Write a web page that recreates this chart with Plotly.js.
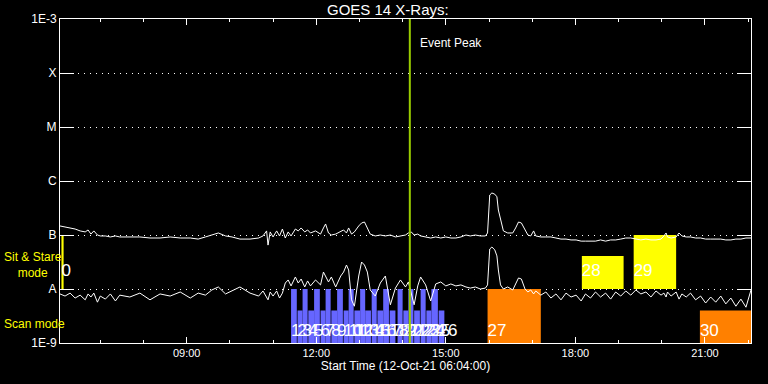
<!DOCTYPE html>
<html><head><meta charset="utf-8">
<script src="https://cdn.plot.ly/plotly-3.0.1.min.js"></script>
<style>html,body{margin:0;padding:0;background:#000;}#chart{width:768px;height:384px;}</style>
</head><body><div id="chart"></div>
<script>
const day = '2021-10-12 ';

const times = ['06:04','06:11','06:18','06:25','06:32','06:39','06:43','06:47','06:51','06:56',
'07:00','07:07','07:14','07:21','07:27','07:41','07:55','08:09','08:23','08:37',
'08:51','09:05','09:16','09:26','09:35','09:44','09:54','10:03','10:14','10:28',
'10:40','10:46','10:51','10:53','10:56','11:00','11:05','11:09','11:13','11:17',
'11:21','11:25','11:31','11:35','11:39','11:44','11:48','11:52','11:59','12:06',
'12:10','12:13','12:17','12:21','12:27','12:34','12:38','12:42','12:45','12:49',
'12:53','12:59','13:03','13:07','13:11','13:15','13:22','13:29','13:36','13:43',
'13:50','13:57','14:04','14:08','14:12','14:16','14:21','14:25','14:32','14:39',
'14:46','14:53','15:00','15:07','15:14','15:21','15:28','15:34','15:41','15:48',
'15:55','15:58','16:01','16:04','16:08','16:11','16:13','16:16','16:20','16:26',
'16:33','16:37','16:41','16:45','16:50','16:54','16:58','17:02','17:05','17:12',
'17:19','17:26','17:33','17:40','17:47','17:54','18:01','18:08','18:14','18:21',
'18:28','18:35','18:42','18:49','18:56','19:03','19:10','19:17','19:24','19:31',
'19:38','19:45','19:52','19:59','20:03','20:06','20:08','20:13','20:20','20:24',
'20:28','20:34','20:40','20:47','20:54','21:01','21:08','21:15','21:22','21:29',
'21:36','21:43','21:50','21:57','22:04'];

// GOES long channel (1-8 A), W/m^2
const longFlux = [1.47e-7,1.41e-7,1.35e-7,1.29e-7,1.19e-7,1.14e-7,1.24e-7,1.04e-7,1.19e-7,1.0e-7,
9.6e-8,9.6e-8,9.2e-8,9.6e-8,9.2e-8,9.2e-8,9.2e-8,8.8e-8,8.8e-8,9.2e-8,
8.8e-8,8.8e-8,8.4e-8,9.2e-8,1.0e-7,1.09e-7,9.6e-8,9.2e-8,8.4e-8,8.4e-8,
8.8e-8,9.6e-8,1.19e-7,6.5e-8,1.14e-7,9.2e-8,1.19e-7,9.6e-8,1.29e-7,8.8e-8,
1.14e-7,9.6e-8,1.29e-7,1.19e-7,1.35e-7,1.14e-7,1.24e-7,1.09e-7,1.19e-7,1.04e-7,
1.35e-7,1.6e-7,1.09e-7,1.0e-7,1.04e-7,1.14e-7,1.24e-7,1.09e-7,1.35e-7,1.04e-7,
1.14e-7,1.47e-7,1.67e-7,1.74e-7,1.29e-7,1.04e-7,9.6e-8,1.0e-7,9.6e-8,1.0e-7,
9.2e-8,9.6e-8,1.0e-7,1.09e-7,1.14e-7,1.0e-7,1.04e-7,9.6e-8,9.2e-8,8.8e-8,
9.2e-8,8.8e-8,9.2e-8,8.8e-8,8.8e-8,9.2e-8,1.0e-7,9.6e-8,1.0e-7,9.6e-8,
9.6e-8,1.09e-7,5.5e-7,6.0e-7,5.7e-7,5.1e-7,2.9e-7,1.9e-7,1.19e-7,1.09e-7,
1.09e-7,1.35e-7,1.74e-7,1.67e-7,1.24e-7,1.0e-7,9.6e-8,1.19e-7,9.6e-8,9.2e-8,
9.2e-8,9.2e-8,8.8e-8,8.4e-8,8.4e-8,8.1e-8,8.1e-8,7.7e-8,7.7e-8,7.7e-8,
7.7e-8,8.1e-8,7.7e-8,8.1e-8,8.1e-8,8.4e-8,8.8e-8,8.8e-8,8.4e-8,8.1e-8,
8.4e-8,8.1e-8,8.1e-8,8.4e-8,9.6e-8,1.09e-7,9.2e-8,8.8e-8,9.2e-8,1.09e-7,
9.6e-8,9.2e-8,9.2e-8,8.8e-8,8.8e-8,8.4e-8,8.4e-8,8.4e-8,8.4e-8,8.1e-8,
8.1e-8,8.4e-8,8.4e-8,8.8e-8,8.8e-8];

// GOES short channel (0.5-4 A), W/m^2
const shortFlux = [8.1e-9,7.4e-9,8.4e-9,6.8e-9,7.7e-9,6.3e-9,8.1e-9,7.1e-9,8.4e-9,5.7e-9,
7.4e-9,6.5e-9,8.1e-9,6.0e-9,7.7e-9,7.1e-9,8.4e-9,6.3e-9,8.1e-9,7.4e-9,
8.8e-9,6.8e-9,8.4e-9,7.7e-9,9.6e-9,1.09e-8,8.1e-9,9.2e-9,1.09e-8,8.4e-9,
7.4e-9,9.2e-9,7.1e-9,6.3e-9,8.8e-9,7.4e-9,9.2e-9,6.8e-9,8.4e-9,1.29e-8,
1.47e-8,1.14e-8,1.67e-8,1.29e-8,1.53e-8,1.09e-8,1.41e-8,1.14e-8,1.47e-8,1.19e-8,
2.06e-8,1.74e-8,1.35e-8,1.67e-8,1.09e-8,1.74e-8,2.06e-8,2.78e-8,2.25e-8,6.3e-9,
4.8e-9,1.74e-8,3.16e-8,2.78e-8,2.06e-8,9.6e-9,7.4e-9,1.29e-8,1.74e-8,5.1e-9,
1.04e-8,1.47e-8,1.09e-8,1.35e-8,8.1e-9,5.1e-9,1.14e-8,1.67e-8,1.19e-8,6.0e-9,
1.24e-8,1.35e-8,1.14e-8,1.24e-8,1.14e-8,1.19e-8,1.09e-8,1.04e-8,1.09e-8,1.0e-8,
1.04e-8,1.19e-8,5.5e-8,6.0e-8,5.3e-8,4.1e-8,2.25e-8,1.19e-8,1.0e-8,1.09e-8,
9.6e-9,1.24e-8,1.6e-8,1.53e-8,1.0e-8,8.8e-9,9.6e-9,8.1e-9,9.2e-9,7.7e-9,
8.8e-9,6.8e-9,8.1e-9,6.3e-9,8.4e-9,7.1e-9,7.7e-9,6.0e-9,8.1e-9,6.8e-9,
8.8e-9,7.1e-9,8.4e-9,6.5e-9,8.8e-9,7.4e-9,9.2e-9,7.7e-9,9.6e-9,8.1e-9,
8.8e-9,7.1e-9,9.2e-9,7.7e-9,8.4e-9,7.1e-9,8.8e-9,7.4e-9,8.8e-9,6.5e-9,
8.1e-9,7.1e-9,8.4e-9,6.3e-9,7.4e-9,5.5e-9,7.1e-9,5.7e-9,7.4e-9,5.3e-9,
6.8e-9,4.8e-9,6.5e-9,4.6e-9,9.6e-9];

// Scan mode observations (blue)
const scanLabels = ['1','2','3','4','5','6','7','8','9','10','11','12','13','14','15','16','17','18','19','20','21','22','23','24','25','26'];
const scanStart = ['11:25','11:34','11:41','11:49','11:57','12:06','12:13','12:21','12:29','12:38','12:45','12:53','13:01','13:08','13:17','13:25','13:33','13:42','13:53','14:01','14:08','14:16','14:25','14:33','14:40','14:50'];
const scanEnd   = ['11:33','11:41','11:48','11:57','12:05','12:13','12:20','12:29','12:37','12:45','12:52','13:01','13:08','13:16','13:24','13:33','13:41','13:50','14:00','14:08','14:15','14:24','14:32','14:40','14:49','14:58'];
const scanTop   = [1e-8,4e-9,1e-8,4e-9,1e-8,4e-9,1e-8,4e-9,1e-8,4e-9,1e-8,4e-9,1e-8,4e-9,1e-8,4e-9,1e-8,4e-9,1e-8,4e-9,1e-8,4e-9,1e-8,4e-9,1e-8,4e-9];

// Scan mode observations (orange)
const scan2Labels = ['27','30'];
const scan2Start = ['15:58','20:53'];
const scan2End   = ['17:12','22:04'];
const scan2Top   = [1e-8,4e-9];

// Sit & stare observations (yellow)
const stareLabels = ['0','28','29'];
const stareStart = ['06:06','18:09','19:21'];
const stareEnd   = ['06:09','19:07','20:20'];
const stareTop   = [1e-7,4.1e-8,1e-7];

const scanBase = 1e-9;
const stareBase = 1e-8;
const eventPeak = '14:10';

const yTickVals = [1e-9,1e-8,1e-7,1e-6,1e-5,1e-4,1e-3];
const yTickText = ['1E-9','A','B','C','M','X','1E-3'];

function toDate(t){ return day + t; }
function durMs(a,b){ return new Date(toDate(b).replace(' ','T')) - new Date(toDate(a).replace(' ','T')); }

function barTrace(starts, ends, tops, base, color){
  return {
    type:'bar',
    x: starts.map(toDate),
    y: tops.map(t => t - base),
    base: starts.map(() => base),
    width: starts.map((s,i) => durMs(s, ends[i])),
    offset: 0,
    marker:{color:color, line:{width:0}},
    hoverinfo:'skip'
  };
}
function labelTrace(starts, labels, level){
  return {
    type:'scatter', mode:'text',
    x: starts.map(toDate),
    y: starts.map(() => level),
    text: labels,
    textposition:'middle right',
    textfont:{family:'Liberation Sans, Arial, sans-serif', size:17, color:'#ffffff'},
    hoverinfo:'skip'
  };
}

const traces = [
  barTrace(scanStart, scanEnd, scanTop, scanBase, '#6666ff'),
  barTrace(scan2Start, scan2End, scan2Top, scanBase, '#ff8000'),
  barTrace(stareStart, stareEnd, stareTop, stareBase, '#ffff00'),
  {type:'scatter', mode:'lines', x: times.map(toDate), y: longFlux, line:{color:'#ffffff', width:1}, hoverinfo:'skip'},
  {type:'scatter', mode:'lines', x: times.map(toDate), y: shortFlux, line:{color:'#ffffff', width:1}, hoverinfo:'skip'},
  labelTrace(scanStart, scanLabels, 1.6e-9),
  labelTrace(scan2Start, scan2Labels, 1.6e-9),
  labelTrace(stareStart, stareLabels, 2.05e-8)
];

const layout = {
  width:768, height:384,
  paper_bgcolor:'#000000', plot_bgcolor:'#000000',
  margin:{l:60, r:17, t:19, b:41},
  showlegend:false,
  barmode:'overlay',
  font:{family:'Liberation Sans, Arial, sans-serif', color:'#ffffff', size:11},
  title:{text:'GOES 14 X-Rays:', font:{size:15, color:'#ffffff'}, x:0.505, xanchor:'center', xref:'container', y:0.974, yanchor:'middle', yref:'container'},
  xaxis:{
    type:'date', range:[toDate('06:04'), toDate('22:04')],
    tick0: toDate('00:00'), dtick: 3*3600000, tickformat:'%H:%M',
    ticks:'inside', ticklen:6, tickcolor:'#ffffff', tickwidth:1,
    showline:true, linecolor:'#ffffff', linewidth:1, mirror:'ticks',
    showgrid:false, zeroline:false,
    minor:{dtick:3600000, ticks:'inside', ticklen:3, tickcolor:'#ffffff', showgrid:false},
    tickfont:{size:11, color:'#ffffff'},
    title:{text:'Start Time (12-Oct-21 06:04:00)', font:{size:12, color:'#ffffff'}, standoff:2}
  },
  yaxis:{
    type:'log', range:[-9,-3],
    tickmode:'array', tickvals:yTickVals, ticktext:yTickText,
    ticks:'inside', ticklen:14, tickcolor:'#ffffff', tickwidth:1,
    showline:true, linecolor:'#ffffff', linewidth:1, mirror:'ticks',
    showgrid:true, gridcolor:'#ffffff', gridwidth:1, griddash:'1px,5px',
    zeroline:false,
    tickfont:{size:12, color:'#ffffff'}
  },
  shapes:[{type:'line', xref:'x', yref:'paper', x0:toDate(eventPeak), x1:toDate(eventPeak), y0:0, y1:1, line:{color:'#99cc00', width:2}}],
  annotations:[
    {text:'Event Peak', xref:'x', yref:'y', x:toDate(eventPeak), y:-3.444, xanchor:'left', yanchor:'middle', xshift:8, showarrow:false, font:{size:12, color:'#ffffff'}},
    {text:'Sit & Stare<br>mode', xref:'paper', yref:'y', x:0, y:-7.556, xanchor:'left', yanchor:'middle', xshift:-58, align:'center', showarrow:false, font:{size:12, color:'#ffff00'}},
    {text:'Scan mode', xref:'paper', yref:'y', x:0, y:-8.648, xanchor:'left', yanchor:'middle', xshift:-58, showarrow:false, font:{size:12, color:'#ffff00'}}
  ]
};

Plotly.newPlot('chart', traces, layout, {staticPlot:true, displayModeBar:false});
</script>
</body></html>
